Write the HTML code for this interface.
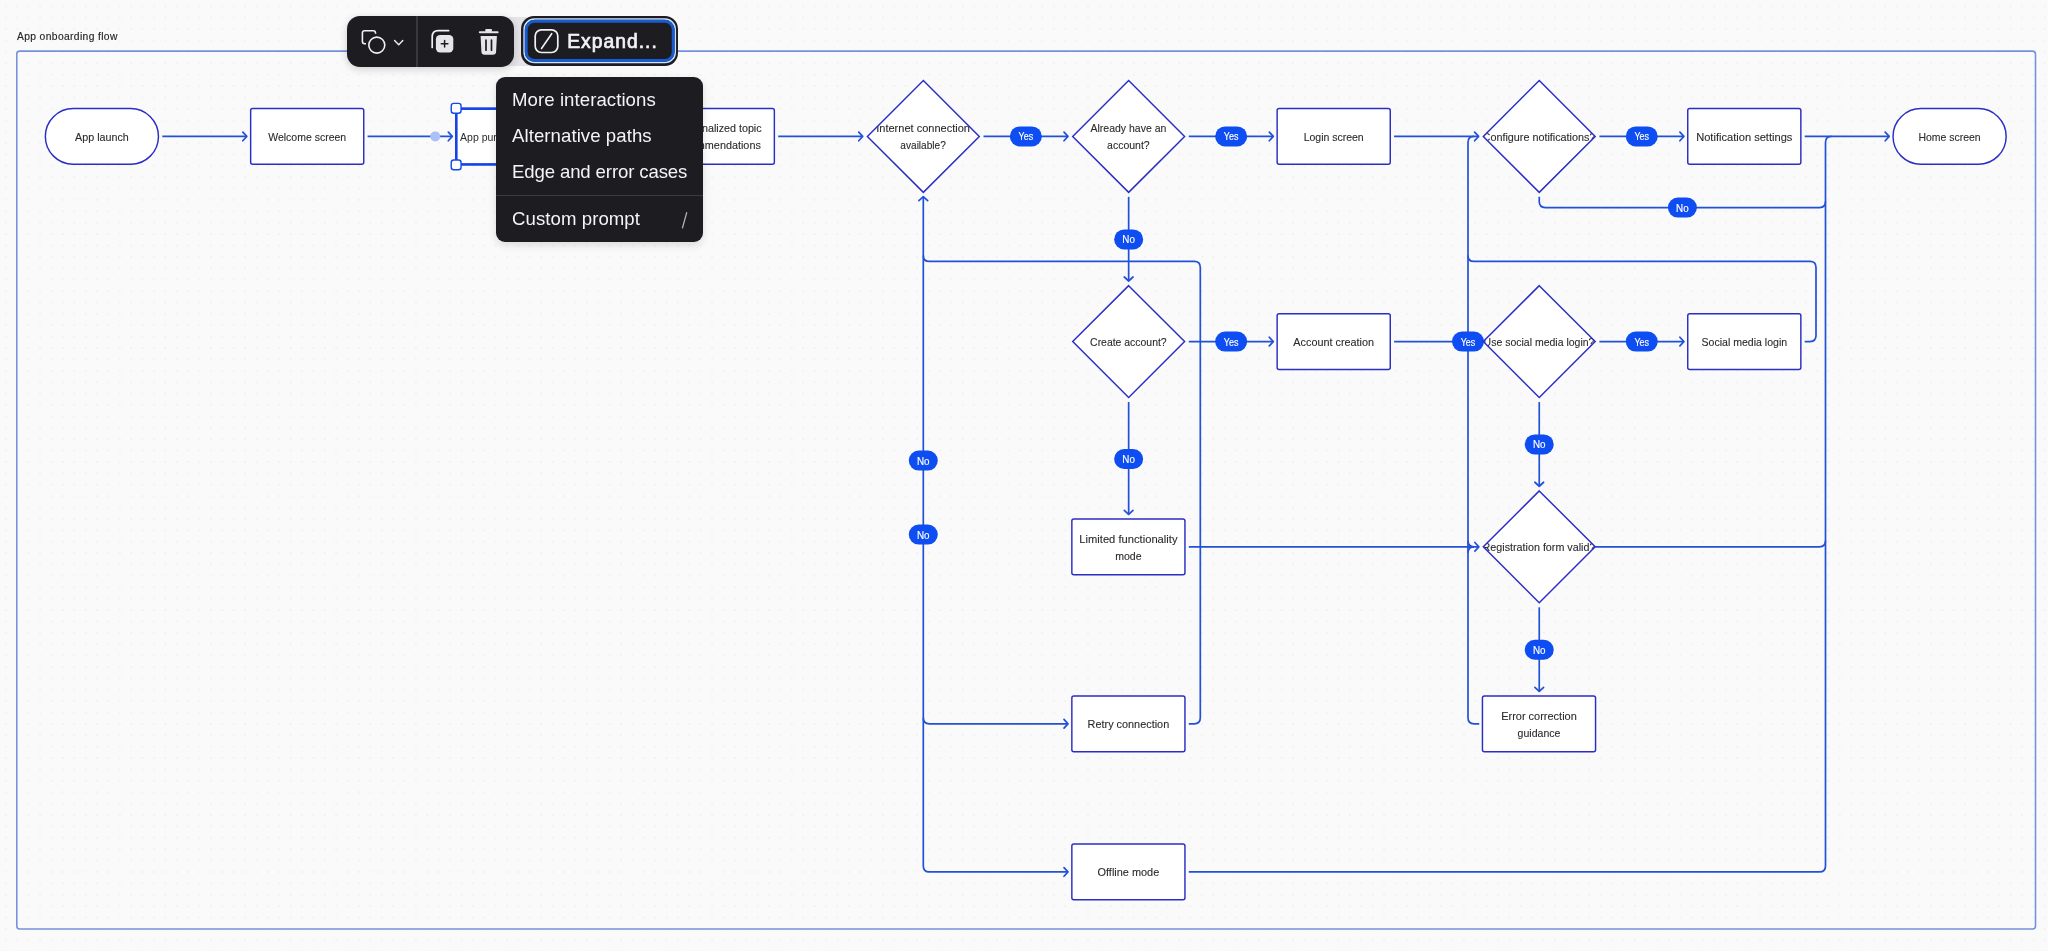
<!DOCTYPE html>
<html><head><meta charset="utf-8"><title>App onboarding flow</title>
<style>
html,body{margin:0;padding:0}
body{width:2048px;height:951px;overflow:hidden;position:relative;background:#fafafa;font-family:"Liberation Sans",sans-serif}
#dots{position:absolute;inset:0;background-image:radial-gradient(circle,#f2f2f3 0.75px,rgba(242,242,243,0) 1.15px);background-size:11.4px 11.4px;background-position:0.2px 0.6px}
#frame{position:absolute;left:16.25px;top:50.35px;width:2017px;height:876.4px;border:1.5px solid #7495e4;border-radius:3px;background:rgba(255,255,255,0.25)}
#title{position:absolute;left:16.8px;top:31.1px;font-size:10.3px;color:#262626;white-space:nowrap;letter-spacing:0.36px;-webkit-text-stroke:0.15px #262626}
svg text{font-family:"Liberation Sans",sans-serif}
#canvas{position:absolute;left:0;top:0;will-change:transform}
#tb,#exp,#menu,#title{will-change:transform}
#strip{position:absolute;left:500px;top:17px;width:40px;height:49px;background:#e5e5e8}
#tb{position:absolute;left:347px;top:16px;width:167.2px;height:51px;border-radius:13px;background:#1d1d21;box-shadow:0 2px 8px rgba(0,0,0,.18)}
#tb .div{position:absolute;left:69.1px;top:0;width:1.6px;height:51px;background:#38383d}
#exp{position:absolute;left:520.6px;top:16.4px;width:157.4px;height:49.7px;border-radius:13px;background:#1d1d21;box-sizing:border-box}
#exp .ring{position:absolute;left:2.5px;top:2.5px;right:2.5px;bottom:2.5px;border-radius:10.5px;border:1px solid #b9d6ff;box-sizing:border-box}
#exp .ring2{position:absolute;left:3.5px;top:3.5px;right:3.5px;bottom:3.5px;border-radius:9.5px;border:3px solid #1a63d2;box-sizing:border-box}
#exp .txt{position:absolute;left:46.2px;top:14.7px;font-size:19.3px;font-weight:400;-webkit-text-stroke:0.7px #f2f2f4;color:#f2f2f4;white-space:nowrap;letter-spacing:1.02px}
#menu{position:absolute;left:496px;top:77px;width:207px;height:165px;border-radius:9px;background:#1d1d21;box-shadow:0 3px 9px rgba(0,0,0,.13)}
#menu .it{position:absolute;left:16px;font-size:18.6px;color:#f4f4f5;white-space:nowrap;letter-spacing:0.07px}
#menu .sep{position:absolute;left:0;right:0;top:118px;height:1px;background:#3a3a40}
#menu .sl{position:absolute;left:0;top:0}
</style></head><body>
<div id="dots"></div>
<div id="title">App onboarding flow</div>
<svg id="canvas" width="2048" height="951" viewBox="0 0 2048 951">
<rect x="16.8" y="51.1" width="2018.7" height="877.9" rx="3" fill="none" stroke="#7590dd" stroke-width="1.55"/>
<path d="M923.3,196.7 V865.9 Q923.3,871.9 929.3,871.9 H1068.0" fill="none" stroke="#2151d6" stroke-width="1.7" stroke-linecap="butt" stroke-linejoin="round"/>
<path d="M1064.0,867.55 L1068.0,871.9 L1064.0,876.25" fill="none" stroke="#2151d6" stroke-width="1.7" stroke-linecap="round" stroke-linejoin="round"/>
<path d="M918.9499999999999,200.7 L923.3,196.7 L927.65,200.7" fill="none" stroke="#2151d6" stroke-width="1.7" stroke-linecap="round" stroke-linejoin="round"/>
<path d="M923.3,717.8 Q923.3,723.8 929.3,723.8 H1068.0" fill="none" stroke="#2151d6" stroke-width="1.7" stroke-linecap="butt" stroke-linejoin="round"/>
<path d="M1064.0,719.4499999999999 L1068.0,723.8 L1064.0,728.15" fill="none" stroke="#2151d6" stroke-width="1.7" stroke-linecap="round" stroke-linejoin="round"/>
<path d="M1188.8000000000002,723.8 H1194.3 Q1200.3,723.8 1200.3,717.8 V267.4 Q1200.3,261.4 1194.3,261.4 H929.3 Q923.3,261.4 923.3,255.39999999999998" fill="none" stroke="#2151d6" stroke-width="1.7" stroke-linecap="butt" stroke-linejoin="round"/>
<path d="M1188.8000000000002,871.9 H1819.5 Q1825.5,871.9 1825.5,865.9 V142.4 Q1825.5,136.4 1831.5,136.4" fill="none" stroke="#2151d6" stroke-width="1.7" stroke-linecap="butt" stroke-linejoin="round"/>
<path d="M1595.2500000000002,546.85 H1819.5 Q1825.5,546.85 1825.5,540.85" fill="none" stroke="#2151d6" stroke-width="1.7" stroke-linecap="butt" stroke-linejoin="round"/>
<path d="M1539.2500000000002,196.85000000000002 V201.6 Q1539.2500000000002,207.6 1545.2500000000002,207.6 H1819.5 Q1825.5,207.6 1825.5,201.6" fill="none" stroke="#2151d6" stroke-width="1.7" stroke-linecap="butt" stroke-linejoin="round"/>
<path d="M1479.2500000000002,723.8 H1474.0 Q1468.0,723.8 1468.0,717.8 V142.4 Q1468.0,136.4 1474.0,136.4" fill="none" stroke="#2151d6" stroke-width="1.7" stroke-linecap="butt" stroke-linejoin="round"/>
<path d="M1468.0,552.85 Q1468.0,546.85 1474.0,546.85" fill="none" stroke="#2151d6" stroke-width="1.7" stroke-linecap="butt" stroke-linejoin="round"/>
<path d="M1468.0,540.85 Q1468.0,546.85 1474.0,546.85" fill="none" stroke="#2151d6" stroke-width="1.7" stroke-linecap="butt" stroke-linejoin="round"/>
<path d="M1804.7000000000003,341.6 H1810.0 Q1816.0,341.6 1816.0,335.6 V267.4 Q1816.0,261.4 1810.0,261.4 H1474.0 Q1468.0,261.4 1468.0,255.39999999999998" fill="none" stroke="#2151d6" stroke-width="1.7" stroke-linecap="butt" stroke-linejoin="round"/>
<path d="M1188.8,546.85 H1478.85" fill="none" stroke="#2151d6" stroke-width="1.7" stroke-linecap="butt" stroke-linejoin="round"/>
<path d="M1474.85,542.5 L1478.85,546.85 L1474.85,551.2" fill="none" stroke="#2151d6" stroke-width="1.7" stroke-linecap="round" stroke-linejoin="round"/>
<path d="M162.3,136.4 H246.8" fill="none" stroke="#2151d6" stroke-width="1.7" stroke-linecap="butt" stroke-linejoin="round"/>
<path d="M242.8,132.05 L246.8,136.4 L242.8,140.75" fill="none" stroke="#2151d6" stroke-width="1.7" stroke-linecap="round" stroke-linejoin="round"/>
<path d="M367.6,136.4 H452.3" fill="none" stroke="#2151d6" stroke-width="1.7" stroke-linecap="butt" stroke-linejoin="round"/>
<path d="M448.3,132.05 L452.3,136.4 L448.3,140.75" fill="none" stroke="#2151d6" stroke-width="1.7" stroke-linecap="round" stroke-linejoin="round"/>
<path d="M572.9,136.4 H657.4" fill="none" stroke="#2151d6" stroke-width="1.7" stroke-linecap="butt" stroke-linejoin="round"/>
<path d="M653.4,132.05 L657.4,136.4 L653.4,140.75" fill="none" stroke="#2151d6" stroke-width="1.7" stroke-linecap="round" stroke-linejoin="round"/>
<path d="M778.2,136.4 H862.7" fill="none" stroke="#2151d6" stroke-width="1.7" stroke-linecap="butt" stroke-linejoin="round"/>
<path d="M858.7,132.05 L862.7,136.4 L858.7,140.75" fill="none" stroke="#2151d6" stroke-width="1.7" stroke-linecap="round" stroke-linejoin="round"/>
<path d="M983.5,136.4 H1068.0" fill="none" stroke="#2151d6" stroke-width="1.7" stroke-linecap="butt" stroke-linejoin="round"/>
<path d="M1064.0,132.05 L1068.0,136.4 L1064.0,140.75" fill="none" stroke="#2151d6" stroke-width="1.7" stroke-linecap="round" stroke-linejoin="round"/>
<rect x="1009.85" y="126.40" width="32.0" height="20" rx="10.0" fill="#0d4df2"/>
<text x="1025.85" y="140.40" font-size="10.3" fill="#fff" stroke="#fff" stroke-width="0.15" text-anchor="middle" textLength="14.6" lengthAdjust="spacingAndGlyphs">Yes</text>
<path d="M1188.8,136.4 H1273.3" fill="none" stroke="#2151d6" stroke-width="1.7" stroke-linecap="butt" stroke-linejoin="round"/>
<path d="M1269.3,132.05 L1273.3,136.4 L1269.3,140.75" fill="none" stroke="#2151d6" stroke-width="1.7" stroke-linecap="round" stroke-linejoin="round"/>
<rect x="1215.15" y="126.40" width="32.0" height="20" rx="10.0" fill="#0d4df2"/>
<text x="1231.15" y="140.40" font-size="10.3" fill="#fff" stroke="#fff" stroke-width="0.15" text-anchor="middle" textLength="14.6" lengthAdjust="spacingAndGlyphs">Yes</text>
<path d="M1394.1,136.4 H1478.6" fill="none" stroke="#2151d6" stroke-width="1.7" stroke-linecap="butt" stroke-linejoin="round"/>
<path d="M1474.6,132.05 L1478.6,136.4 L1474.6,140.75" fill="none" stroke="#2151d6" stroke-width="1.7" stroke-linecap="round" stroke-linejoin="round"/>
<path d="M1599.4,136.4 H1683.9" fill="none" stroke="#2151d6" stroke-width="1.7" stroke-linecap="butt" stroke-linejoin="round"/>
<path d="M1679.9,132.05 L1683.9,136.4 L1679.9,140.75" fill="none" stroke="#2151d6" stroke-width="1.7" stroke-linecap="round" stroke-linejoin="round"/>
<rect x="1625.75" y="126.40" width="32.0" height="20" rx="10.0" fill="#0d4df2"/>
<text x="1641.75" y="140.40" font-size="10.3" fill="#fff" stroke="#fff" stroke-width="0.15" text-anchor="middle" textLength="14.6" lengthAdjust="spacingAndGlyphs">Yes</text>
<path d="M1804.7,136.4 H1889.2" fill="none" stroke="#2151d6" stroke-width="1.7" stroke-linecap="butt" stroke-linejoin="round"/>
<path d="M1885.2,132.05 L1889.2,136.4 L1885.2,140.75" fill="none" stroke="#2151d6" stroke-width="1.7" stroke-linecap="round" stroke-linejoin="round"/>
<path d="M1188.8,341.6 H1273.3" fill="none" stroke="#2151d6" stroke-width="1.7" stroke-linecap="butt" stroke-linejoin="round"/>
<path d="M1269.3,337.25 L1273.3,341.6 L1269.3,345.95000000000005" fill="none" stroke="#2151d6" stroke-width="1.7" stroke-linecap="round" stroke-linejoin="round"/>
<rect x="1215.15" y="331.60" width="32.0" height="20" rx="10.0" fill="#0d4df2"/>
<text x="1231.15" y="345.60" font-size="10.3" fill="#fff" stroke="#fff" stroke-width="0.15" text-anchor="middle" textLength="14.6" lengthAdjust="spacingAndGlyphs">Yes</text>
<path d="M1394.1,341.6 H1478.6" fill="none" stroke="#2151d6" stroke-width="1.7" stroke-linecap="butt" stroke-linejoin="round"/>
<path d="M1474.6,337.25 L1478.6,341.6 L1474.6,345.95000000000005" fill="none" stroke="#2151d6" stroke-width="1.7" stroke-linecap="round" stroke-linejoin="round"/>
<path d="M1599.4,341.6 H1683.9" fill="none" stroke="#2151d6" stroke-width="1.7" stroke-linecap="butt" stroke-linejoin="round"/>
<path d="M1679.9,337.25 L1683.9,341.6 L1679.9,345.95000000000005" fill="none" stroke="#2151d6" stroke-width="1.7" stroke-linecap="round" stroke-linejoin="round"/>
<rect x="1625.75" y="331.60" width="32.0" height="20" rx="10.0" fill="#0d4df2"/>
<text x="1641.75" y="345.60" font-size="10.3" fill="#fff" stroke="#fff" stroke-width="0.15" text-anchor="middle" textLength="14.6" lengthAdjust="spacingAndGlyphs">Yes</text>
<rect x="1452.00" y="331.60" width="32.0" height="20" rx="10.0" fill="#0d4df2"/>
<text x="1468.00" y="345.60" font-size="10.3" fill="#fff" stroke="#fff" stroke-width="0.15" text-anchor="middle" textLength="14.6" lengthAdjust="spacingAndGlyphs">Yes</text>
<path d="M1128.65,196.85000000000002 V281.0" fill="none" stroke="#2151d6" stroke-width="1.7" stroke-linecap="butt" stroke-linejoin="round"/>
<path d="M1124.3000000000002,277.0 L1128.65,281.0 L1133.0,277.0" fill="none" stroke="#2151d6" stroke-width="1.7" stroke-linecap="round" stroke-linejoin="round"/>
<rect x="1114.15" y="229.40" width="29.0" height="20" rx="10.0" fill="#0d4df2"/>
<text x="1128.65" y="243.40" font-size="10.3" fill="#fff" stroke="#fff" stroke-width="0.15" text-anchor="middle" textLength="12.6" lengthAdjust="spacingAndGlyphs">No</text>
<path d="M1128.65,402.05 V514.45" fill="none" stroke="#2151d6" stroke-width="1.7" stroke-linecap="butt" stroke-linejoin="round"/>
<path d="M1124.3000000000002,510.45000000000005 L1128.65,514.45 L1133.0,510.45000000000005" fill="none" stroke="#2151d6" stroke-width="1.7" stroke-linecap="round" stroke-linejoin="round"/>
<rect x="1114.15" y="449.00" width="29.0" height="20" rx="10.0" fill="#0d4df2"/>
<text x="1128.65" y="463.00" font-size="10.3" fill="#fff" stroke="#fff" stroke-width="0.15" text-anchor="middle" textLength="12.6" lengthAdjust="spacingAndGlyphs">No</text>
<path d="M1539.2500000000002,402.05 V486.25" fill="none" stroke="#2151d6" stroke-width="1.7" stroke-linecap="butt" stroke-linejoin="round"/>
<path d="M1534.9000000000003,482.25 L1539.2500000000002,486.25 L1543.6000000000001,482.25" fill="none" stroke="#2151d6" stroke-width="1.7" stroke-linecap="round" stroke-linejoin="round"/>
<rect x="1524.75" y="434.40" width="29.0" height="20" rx="10.0" fill="#0d4df2"/>
<text x="1539.25" y="448.40" font-size="10.3" fill="#fff" stroke="#fff" stroke-width="0.15" text-anchor="middle" textLength="12.6" lengthAdjust="spacingAndGlyphs">No</text>
<path d="M1539.2500000000002,607.3000000000001 V691.4" fill="none" stroke="#2151d6" stroke-width="1.7" stroke-linecap="butt" stroke-linejoin="round"/>
<path d="M1534.9000000000003,687.4 L1539.2500000000002,691.4 L1543.6000000000001,687.4" fill="none" stroke="#2151d6" stroke-width="1.7" stroke-linecap="round" stroke-linejoin="round"/>
<rect x="1524.75" y="639.80" width="29.0" height="20" rx="10.0" fill="#0d4df2"/>
<text x="1539.25" y="653.80" font-size="10.3" fill="#fff" stroke="#fff" stroke-width="0.15" text-anchor="middle" textLength="12.6" lengthAdjust="spacingAndGlyphs">No</text>
<rect x="908.80" y="450.60" width="29.0" height="20" rx="10.0" fill="#0d4df2"/>
<text x="923.30" y="464.60" font-size="10.3" fill="#fff" stroke="#fff" stroke-width="0.15" text-anchor="middle" textLength="12.6" lengthAdjust="spacingAndGlyphs">No</text>
<rect x="908.80" y="524.60" width="29.0" height="20" rx="10.0" fill="#0d4df2"/>
<text x="923.30" y="538.60" font-size="10.3" fill="#fff" stroke="#fff" stroke-width="0.15" text-anchor="middle" textLength="12.6" lengthAdjust="spacingAndGlyphs">No</text>
<rect x="1667.90" y="197.60" width="29.0" height="20" rx="10.0" fill="#0d4df2"/>
<text x="1682.40" y="211.60" font-size="10.3" fill="#fff" stroke="#fff" stroke-width="0.15" text-anchor="middle" textLength="12.6" lengthAdjust="spacingAndGlyphs">No</text>
<rect x="45.35" y="108.50" width="113.1" height="55.8" rx="27.9" fill="#fff" stroke="#2b2dc4" stroke-width="1.45"/>
<text x="101.90" y="140.85" font-size="10.5" fill="#2b2b2b" stroke="#2b2b2b" stroke-width="0.1" text-anchor="middle" textLength="53.6" lengthAdjust="spacingAndGlyphs">App launch</text>
<rect x="250.65" y="108.50" width="113.1" height="55.8" rx="2" fill="#fff" stroke="#2b2dc4" stroke-width="1.45"/>
<text x="307.20" y="140.85" font-size="10.5" fill="#2b2b2b" stroke="#2b2b2b" stroke-width="0.1" text-anchor="middle" textLength="77.9" lengthAdjust="spacingAndGlyphs">Welcome screen</text>
<rect x="455.95" y="108.50" width="113.1" height="55.8" rx="2" fill="#fff" stroke="#2b2dc4" stroke-width="1.45"/>
<text x="460.1" y="140.70" font-size="10.5" fill="#2b2b2b">App purpose explanation</text>
<rect x="661.25" y="108.50" width="113.1" height="55.8" rx="2" fill="#fff" stroke="#2b2dc4" stroke-width="1.45"/>
<text x="717.80" y="132.35" font-size="10.5" fill="#2b2b2b" stroke="#2b2b2b" stroke-width="0.1" text-anchor="middle" textLength="87.7" lengthAdjust="spacingAndGlyphs">Personalized topic</text>
<text x="717.80" y="149.35" font-size="10.5" fill="#2b2b2b" stroke="#2b2b2b" stroke-width="0.1" text-anchor="middle" textLength="86.1" lengthAdjust="spacingAndGlyphs">recommendations</text>
<clipPath id="dc1"><path d="M923.35,80.45 L979.30,136.40 L923.35,192.35 L867.40,136.40 Z"/></clipPath>
<path d="M923.35,80.45 L979.30,136.40 L923.35,192.35 L867.40,136.40 Z" fill="#fff" stroke="none"/>
<g clip-path="url(#dc1)">
<text x="923.10" y="132.35" font-size="10.5" fill="#2b2b2b" stroke="#2b2b2b" stroke-width="0.1" text-anchor="middle" textLength="93.7" lengthAdjust="spacingAndGlyphs">Internet connection</text>
<text x="923.10" y="149.35" font-size="10.5" fill="#2b2b2b" stroke="#2b2b2b" stroke-width="0.1" text-anchor="middle" textLength="45.5" lengthAdjust="spacingAndGlyphs">available?</text>
</g>
<path d="M923.35,80.45 L979.30,136.40 L923.35,192.35 L867.40,136.40 Z" fill="none" stroke="#2b2dc4" stroke-width="1.45" stroke-linejoin="miter"/>
<clipPath id="dc2"><path d="M1128.65,80.45 L1184.60,136.40 L1128.65,192.35 L1072.70,136.40 Z"/></clipPath>
<path d="M1128.65,80.45 L1184.60,136.40 L1128.65,192.35 L1072.70,136.40 Z" fill="#fff" stroke="none"/>
<g clip-path="url(#dc2)">
<text x="1128.40" y="132.35" font-size="10.5" fill="#2b2b2b" stroke="#2b2b2b" stroke-width="0.1" text-anchor="middle" textLength="75.8" lengthAdjust="spacingAndGlyphs">Already have an</text>
<text x="1128.40" y="149.35" font-size="10.5" fill="#2b2b2b" stroke="#2b2b2b" stroke-width="0.1" text-anchor="middle" textLength="42.6" lengthAdjust="spacingAndGlyphs">account?</text>
</g>
<path d="M1128.65,80.45 L1184.60,136.40 L1128.65,192.35 L1072.70,136.40 Z" fill="none" stroke="#2b2dc4" stroke-width="1.45" stroke-linejoin="miter"/>
<rect x="1277.15" y="108.50" width="113.1" height="55.8" rx="2" fill="#fff" stroke="#2b2dc4" stroke-width="1.45"/>
<text x="1333.70" y="140.85" font-size="10.5" fill="#2b2b2b" stroke="#2b2b2b" stroke-width="0.1" text-anchor="middle" textLength="60.0" lengthAdjust="spacingAndGlyphs">Login screen</text>
<clipPath id="dc3"><path d="M1539.25,80.45 L1595.20,136.40 L1539.25,192.35 L1483.30,136.40 Z"/></clipPath>
<path d="M1539.25,80.45 L1595.20,136.40 L1539.25,192.35 L1483.30,136.40 Z" fill="#fff" stroke="none"/>
<g clip-path="url(#dc3)">
<text x="1539.00" y="140.85" font-size="10.5" fill="#2b2b2b" stroke="#2b2b2b" stroke-width="0.1" text-anchor="middle" textLength="112.8" lengthAdjust="spacingAndGlyphs">Configure notifications?</text>
</g>
<path d="M1539.25,80.45 L1595.20,136.40 L1539.25,192.35 L1483.30,136.40 Z" fill="none" stroke="#2b2dc4" stroke-width="1.45" stroke-linejoin="miter"/>
<rect x="1687.75" y="108.50" width="113.1" height="55.8" rx="2" fill="#fff" stroke="#2b2dc4" stroke-width="1.45"/>
<text x="1744.30" y="140.85" font-size="10.5" fill="#2b2b2b" stroke="#2b2b2b" stroke-width="0.1" text-anchor="middle" textLength="96.2" lengthAdjust="spacingAndGlyphs">Notification settings</text>
<rect x="1893.05" y="108.50" width="113.1" height="55.8" rx="27.9" fill="#fff" stroke="#2b2dc4" stroke-width="1.45"/>
<text x="1949.60" y="140.85" font-size="10.5" fill="#2b2b2b" stroke="#2b2b2b" stroke-width="0.1" text-anchor="middle" textLength="62.2" lengthAdjust="spacingAndGlyphs">Home screen</text>
<clipPath id="dc4"><path d="M1128.65,285.65 L1184.60,341.60 L1128.65,397.55 L1072.70,341.60 Z"/></clipPath>
<path d="M1128.65,285.65 L1184.60,341.60 L1128.65,397.55 L1072.70,341.60 Z" fill="#fff" stroke="none"/>
<g clip-path="url(#dc4)">
<text x="1128.40" y="346.05" font-size="10.5" fill="#2b2b2b" stroke="#2b2b2b" stroke-width="0.1" text-anchor="middle" textLength="76.6" lengthAdjust="spacingAndGlyphs">Create account?</text>
</g>
<path d="M1128.65,285.65 L1184.60,341.60 L1128.65,397.55 L1072.70,341.60 Z" fill="none" stroke="#2b2dc4" stroke-width="1.45" stroke-linejoin="miter"/>
<rect x="1277.15" y="313.70" width="113.1" height="55.8" rx="2" fill="#fff" stroke="#2b2dc4" stroke-width="1.45"/>
<text x="1333.70" y="346.05" font-size="10.5" fill="#2b2b2b" stroke="#2b2b2b" stroke-width="0.1" text-anchor="middle" textLength="80.7" lengthAdjust="spacingAndGlyphs">Account creation</text>
<clipPath id="dc5"><path d="M1539.25,285.65 L1595.20,341.60 L1539.25,397.55 L1483.30,341.60 Z"/></clipPath>
<path d="M1539.25,285.65 L1595.20,341.60 L1539.25,397.55 L1483.30,341.60 Z" fill="#fff" stroke="none"/>
<g clip-path="url(#dc5)">
<text x="1539.00" y="346.05" font-size="10.5" fill="#2b2b2b" stroke="#2b2b2b" stroke-width="0.1" text-anchor="middle" textLength="110.9" lengthAdjust="spacingAndGlyphs">Use social media login?</text>
</g>
<path d="M1539.25,285.65 L1595.20,341.60 L1539.25,397.55 L1483.30,341.60 Z" fill="none" stroke="#2b2dc4" stroke-width="1.45" stroke-linejoin="miter"/>
<rect x="1687.75" y="313.70" width="113.1" height="55.8" rx="2" fill="#fff" stroke="#2b2dc4" stroke-width="1.45"/>
<text x="1744.30" y="346.05" font-size="10.5" fill="#2b2b2b" stroke="#2b2b2b" stroke-width="0.1" text-anchor="middle" textLength="85.6" lengthAdjust="spacingAndGlyphs">Social media login</text>
<rect x="1071.85" y="518.95" width="113.1" height="55.8" rx="2" fill="#fff" stroke="#2b2dc4" stroke-width="1.45"/>
<text x="1128.40" y="542.80" font-size="10.5" fill="#2b2b2b" stroke="#2b2b2b" stroke-width="0.1" text-anchor="middle" textLength="98.2" lengthAdjust="spacingAndGlyphs">Limited functionality</text>
<text x="1128.40" y="559.80" font-size="10.5" fill="#2b2b2b" stroke="#2b2b2b" stroke-width="0.1" text-anchor="middle" textLength="26.4" lengthAdjust="spacingAndGlyphs">mode</text>
<clipPath id="dc6"><path d="M1539.25,490.90 L1595.20,546.85 L1539.25,602.80 L1483.30,546.85 Z"/></clipPath>
<path d="M1539.25,490.90 L1595.20,546.85 L1539.25,602.80 L1483.30,546.85 Z" fill="#fff" stroke="none"/>
<g clip-path="url(#dc6)">
<text x="1539.00" y="551.30" font-size="10.5" fill="#2b2b2b" stroke="#2b2b2b" stroke-width="0.1" text-anchor="middle" textLength="112.9" lengthAdjust="spacingAndGlyphs">Registration form valid?</text>
</g>
<path d="M1539.25,490.90 L1595.20,546.85 L1539.25,602.80 L1483.30,546.85 Z" fill="none" stroke="#2b2dc4" stroke-width="1.45" stroke-linejoin="miter"/>
<rect x="1071.85" y="695.90" width="113.1" height="55.8" rx="2" fill="#fff" stroke="#2b2dc4" stroke-width="1.45"/>
<text x="1128.40" y="728.25" font-size="10.5" fill="#2b2b2b" stroke="#2b2b2b" stroke-width="0.1" text-anchor="middle" textLength="81.6" lengthAdjust="spacingAndGlyphs">Retry connection</text>
<rect x="1482.45" y="695.90" width="113.1" height="55.8" rx="2" fill="#fff" stroke="#2b2dc4" stroke-width="1.45"/>
<text x="1539.00" y="719.75" font-size="10.5" fill="#2b2b2b" stroke="#2b2b2b" stroke-width="0.1" text-anchor="middle" textLength="75.6" lengthAdjust="spacingAndGlyphs">Error correction</text>
<text x="1539.00" y="736.75" font-size="10.5" fill="#2b2b2b" stroke="#2b2b2b" stroke-width="0.1" text-anchor="middle" textLength="42.8" lengthAdjust="spacingAndGlyphs">guidance</text>
<rect x="1071.85" y="844.00" width="113.1" height="55.8" rx="2" fill="#fff" stroke="#2b2dc4" stroke-width="1.45"/>
<text x="1128.40" y="876.35" font-size="10.5" fill="#2b2b2b" stroke="#2b2b2b" stroke-width="0.1" text-anchor="middle" textLength="61.7" lengthAdjust="spacingAndGlyphs">Offline mode</text>
<rect x="456.35" y="108.70" width="113.1" height="55.8" fill="none" stroke="#1243e6" stroke-width="2.5"/>
<rect x="451.25" y="103.40" width="9.8" height="9.8" rx="2.5" fill="#fff" stroke="#1548e8" stroke-width="1.4"/>
<rect x="451.25" y="160.00" width="9.8" height="9.8" rx="2.5" fill="#fff" stroke="#1548e8" stroke-width="1.4"/>
<circle cx="435.2" cy="136.4" r="5" fill="#a9c1f6"/>
</svg>
<div id="strip"></div>
<div id="tb"><div class="div"></div>
<svg width="168" height="51" viewBox="0 0 168 51" style="position:absolute;left:0;top:0" fill="none" stroke="#f1f1f3" stroke-width="1.7" stroke-linecap="round" stroke-linejoin="round">
<!-- shapes icon -->
<path d="M19.0,27.8 H17.6 Q15.4,27.8 15.4,25.6 V16.9 Q15.4,14.7 17.6,14.7 H26.3 Q28.5,14.7 28.5,16.9 V17.8" stroke-width="1.6" stroke-linecap="butt"/>
<circle cx="29.8" cy="29.1" r="8.0" stroke-width="1.6"/>
<path d="M47.6,24.6 L51.7,28.7 L55.8,24.6" stroke-width="1.4"/>
<!-- duplicate icon -->
<path d="M85.2,31.4 V20.8 Q85.2,14.7 91.3,14.7 H101.6" stroke-width="1.7"/>
<rect x="88.9" y="19.1" width="17.4" height="17.4" rx="4.2" fill="#e6e6e9" stroke="none"/>
<path d="M97.6,24.5 V31.1 M94.3,27.8 H100.9" stroke="#1d1d21" stroke-width="1.5"/>
<!-- trash icon -->
<path d="M138.4,14.6 Q138.4,13 140,13 H143.2 Q144.8,13 144.8,14.6" stroke="none" fill="#e6e6e9"/>
<rect x="138.3" y="12.9" width="6.6" height="3" rx="1.2" fill="#e6e6e9" stroke="none"/>
<rect x="131.8" y="15.2" width="19.8" height="2.1" rx="1" fill="#e6e6e9" stroke="none"/>
<path d="M133.6,20 H149.9 L149.1,35.6 Q149,38.8 145.8,38.8 H137.7 Q134.5,38.8 134.4,35.6 Z" fill="#e6e6e9" stroke="none"/>
<path d="M139,24.2 V34.2 M144.5,24.2 V34.2" stroke="#1d1d21" stroke-width="1.7"/>
</svg></div>
<div id="exp">
<svg width="158" height="50" viewBox="0 0 158 50" style="position:absolute;left:0;top:0" fill="none" stroke="#f1f1f3" stroke-width="1.6" stroke-linecap="round" stroke-linejoin="round">
<rect x="3.1" y="3.1" width="151.2" height="43.5" rx="10.4" stroke="#cde1ff" stroke-width="1.5"/>
<rect x="5.2" y="5.2" width="147.0" height="39.3" rx="8.4" stroke="#185bcb" stroke-width="2.9"/>
<rect x="14.2" y="13.9" width="22.6" height="22.6" rx="6.2" stroke-width="1.7"/>
<path d="M20.5,32.5 L30.7,17.7" stroke-width="1.6"/>
</svg>
<div class="txt">Expand...</div></div>
<div id="menu">
<div class="it" style="top:12px">More interactions</div>
<div class="it" style="top:48px">Alternative paths</div>
<div class="it" style="top:84px;letter-spacing:-0.13px">Edge and error cases</div>
<div class="sep"></div>
<div class="it" style="top:131px">Custom prompt</div>
<svg class="sl" width="207" height="165" viewBox="0 0 207 165"><path d="M186.5,150.8 L190.7,135.6" stroke="#b2b2b8" stroke-width="1.3" stroke-linecap="round" fill="none"/></svg>
</div>
</body></html>
